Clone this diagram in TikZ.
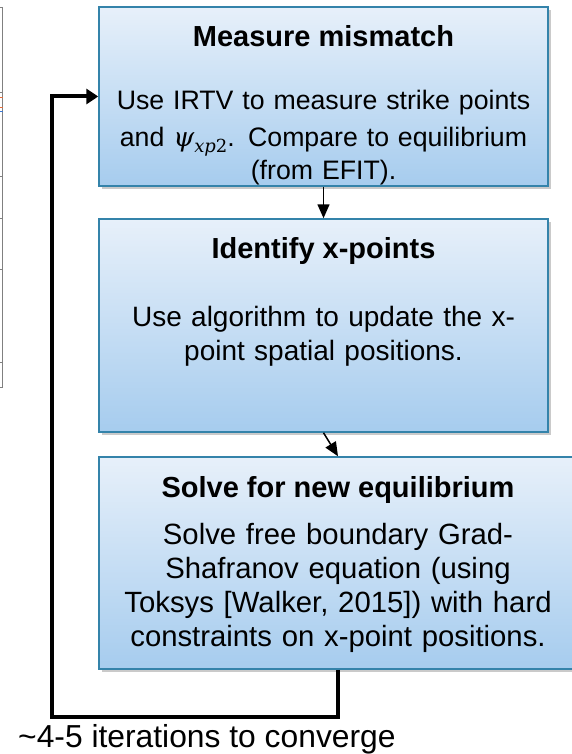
\documentclass[tikz,border=0pt]{standalone}
\usepackage{fontspec}
\setmainfont{Liberation Sans}
\newfontfamily\psifont{DejaVu Serif}
\usetikzlibrary{arrows.meta,shadows}
\definecolor{boxtop}{RGB}{231,240,250}
\definecolor{boxbot}{RGB}{166,204,238}
\definecolor{boxline}{RGB}{52,131,170}
\definecolor{stubgray}{RGB}{128,128,128}
\definecolor{stuborange}{RGB}{228,110,60}
\definecolor{stubblue}{RGB}{60,120,210}
\newcommand\psixp{{\psifont\itshape ψ}\raisebox{-6pt}{\fontsize{18}{18}\selectfont\psifont\itshape xp\upshape 2}}
\tikzset{
  stepbox/.style={draw=boxline, line width=1.5pt, top color=boxtop, bottom color=boxbot,
    inner sep=0pt,
    drop shadow={shadow xshift=3pt, shadow yshift=-3pt, opacity=0.35, fill=black!60}},
  boxtitle/.style={font=\fontsize{29}{35}\selectfont\bfseries, anchor=base, inner sep=0pt},
  boxbody/.style={anchor=base, inner sep=0pt, text width=470pt, align=center},
  thinarrow/.style={line width=1.5pt, -{Triangle[length=14pt,width=12pt]}},
  looparrow/.style={line width=4pt, -{Triangle[length=12pt,width=15pt]}},
  stubline/.style={line width=0.8pt},
}
\begin{document}
\begin{tikzpicture}[x=1pt,y=-1pt]
\useasboundingbox (0,0) rectangle (572,754);
% remnant of neighbouring figure at left edge
\draw[stubline, stubgray] (2.7,7) -- (2.7,387);
\foreach \yy in {7,92,176,269,362,387} \draw[stubline, stubgray] (0,\yy) -- (3,\yy);
\draw[stubline, stuborange] (0,97) -- (3,97);
\draw[stubline, stuborange] (0,107) -- (3,107);
\draw[stubline, stubblue] (0,111) -- (3,111);
\draw[stubline, stubgray] (0,218) -- (3,218);

% boxes
\node[stepbox, minimum width=449pt, minimum height=179pt] (box1) at (323.5,96.5) {};
\node[stepbox, minimum width=449pt, minimum height=213pt] (box2) at (323.5,325.5) {};
\node[stepbox, minimum width=478pt, minimum height=212pt] (box3) at (338,563) {};

% box 1 text
\node[boxtitle] (t1) at (323.5,47) {Measure mismatch};
\node[boxbody, font=\fontsize{26.7}{32.5}\selectfont] (b1) at (323.5,110)
  {Use IRTV to measure strike points\\[4.5pt] and \psixp. Compare to equilibrium\\ (from EFIT).};

% box 2 text
\node[boxtitle] (t2) at (323.5,258) {Identify x-points};
\node[boxbody, font=\fontsize{28}{34}\selectfont] (b2) at (323.5,326)
  {Use algorithm to update the x-\\ point spatial positions.};

% box 3 text
\node[boxtitle] (t3) at (338,497) {Solve for new equilibrium};
\node[boxbody, font=\fontsize{29.3}{34.3}\selectfont] (b3) at (338,544)
  {Solve free boundary Grad-\\ Shafranov equation (using\\ Toksys [Walker, 2015]) with hard\\ constraints on x-point positions.};

% bottom note
\node[anchor=base west, inner sep=0pt, font=\fontsize{31.8}{38}\selectfont] (note) at (18,747)
  {\textasciitilde 4-5 iterations to converge};

% connectors
\draw[thinarrow] (box1.south) -- (box2.north);
\draw[thinarrow] (box2.south) -- (box3.north);
\coordinate (lb) at (52,717);
\draw[looparrow] (box3.south) |- (lb) |- (box1.west);
\end{tikzpicture}
\end{document}
